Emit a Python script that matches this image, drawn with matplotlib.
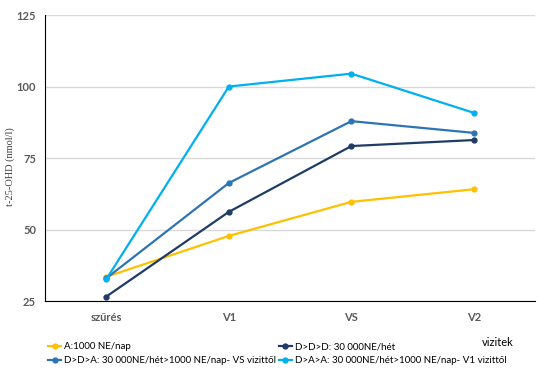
import matplotlib.pyplot as plt

categories = ['szűrés', 'V1', 'VS', 'V2']
a_1000 = [33.5, 47.8, 59.7, 64.1]
ddd = [26.6, 56.2, 79.2, 81.3]
dda = [33.0, 66.3, 87.9, 83.8]
daa = [32.7, 100.0, 104.5, 90.8]

labels = ['A:1000 NE/nap',
          'D>D>D: 30 000NE/hét',
          'D>D>A: 30 000NE/hét>1000 NE/nap- VS vizittől',
          'D>A>A: 30 000NE/hét>1000 NE/nap- V1 vizittől']
colors = ['#FFC000', '#1F3B66', '#2E74B5', '#00B0F0']
series = [a_1000, ddd, dda, daa]

plt.rcParams['font.family'] = ['Lato', 'DejaVu Sans']

fig = plt.figure(figsize=(5.5, 3.75), dpi=100)
ax = fig.add_axes([0.082, 0.197, 0.891, 0.763])

x = range(len(categories))
lines = []
for vals, lab, col in zip(series, labels, colors):
    ln, = ax.plot(x, vals, color=col, lw=1.6, marker='o', ms=3.5, label=lab)
    lines.append(ln)

ax.set_xlim(-0.5, 3.5)
ax.set_ylim(25, 125)
ax.set_yticks([25, 50, 75, 100, 125])
ax.set_xticks(list(x))
ax.set_xticklabels(categories)
ax.grid(axis='y', color='#d9d9d9', lw=1)
ax.set_axisbelow(True)
for s in ['top', 'right']:
    ax.spines[s].set_visible(False)
ax.spines['left'].set_color('black')
ax.spines['bottom'].set_color('black')
ax.tick_params(axis='y', length=0, labelsize=8, labelcolor='#595959', pad=6.5)
ax.tick_params(axis='x', length=0, labelsize=8, labelcolor='#595959', pad=8)
for t in ax.get_xticklabels() + ax.get_yticklabels():
    t.set_fontweight('bold')

fig.text(10 / 550, 1 - 167 / 375, 't-25-OHD (nmol/l)', rotation=90,
         family=['Liberation Serif', 'DejaVu Serif'], fontsize=7.5,
         color='#404040', ha='center', va='center')

fig.text(498 / 550, 1 - 342 / 375, 'vizitek', fontsize=8, ha='center', va='center')

order = [0, 2, 1, 3]
fig.legend([lines[i] for i in order], [labels[i] for i in order],
           ncol=2, loc='upper left', bbox_to_anchor=(0.088, 0.088),
           frameon=False, fontsize=7, handlelength=1.3, handletextpad=0.35,
           columnspacing=0.25, labelspacing=0.55, borderpad=0, borderaxespad=0)

fig.savefig('out.png', dpi=100)
